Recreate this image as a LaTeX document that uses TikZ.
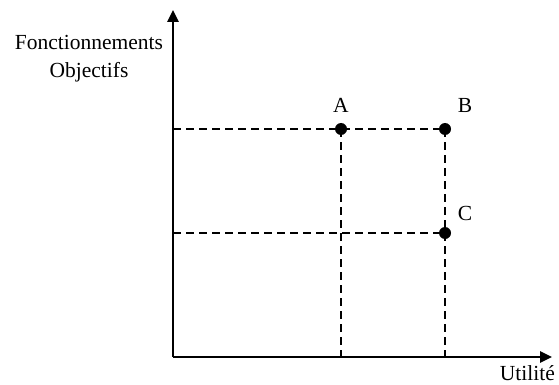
\documentclass[tikz,border=0pt]{standalone}
\usepackage{fontspec}
\setmainfont{Liberation Serif}
\usetikzlibrary{arrows.meta}
\begin{document}
\begin{tikzpicture}[x=1pt,y=-1pt,
  axis/.style={line width=2.6pt,-{Triangle[length=12pt,width=11pt]}},
  guide/.style={line width=2.6pt,dash pattern=on 8pt off 5pt},
  pt/.style={circle,fill=black,inner sep=0pt,minimum size=12pt},
  lbl/.style={font=\fontsize{21.5}{25}\selectfont,inner sep=0pt}]
\useasboundingbox (0,0) rectangle (559,385);
\coordinate (O) at (173,357);
\coordinate (yend) at (173,10);
\coordinate (xend) at (552,357);
\coordinate (yA) at (173,129);
\coordinate (yC) at (173,233);
\coordinate (xA) at (341,357);
\coordinate (xB) at (445,357);
\node[pt] (A) at (341,129) {};
\node[pt] (B) at (445,129) {};
\node[pt] (C) at (445,233) {};
\draw[guide] (yA) -- (B.center);
\draw[guide] (yC) -- (C.center);
\draw[guide] (A.center) -- (xA);
\draw[guide] (B.center) -- (xB);
\draw[axis] (O) -- (yend);
\draw[axis] (O) -- (xend);
\node[lbl,anchor=base] (la) at (341,113) {A};
\node[lbl,anchor=base] (lb) at (465,113) {B};
\node[lbl,anchor=base] (lc) at (465,220) {C};
\node[lbl,anchor=base] (ly1) at (89,50) {Fonctionnements};
\node[lbl,anchor=base] (ly2) at (89,78) {Objectifs};
\node[lbl,anchor=base east] (lx) at (555,380) {Utilité};
\end{tikzpicture}
\end{document}
